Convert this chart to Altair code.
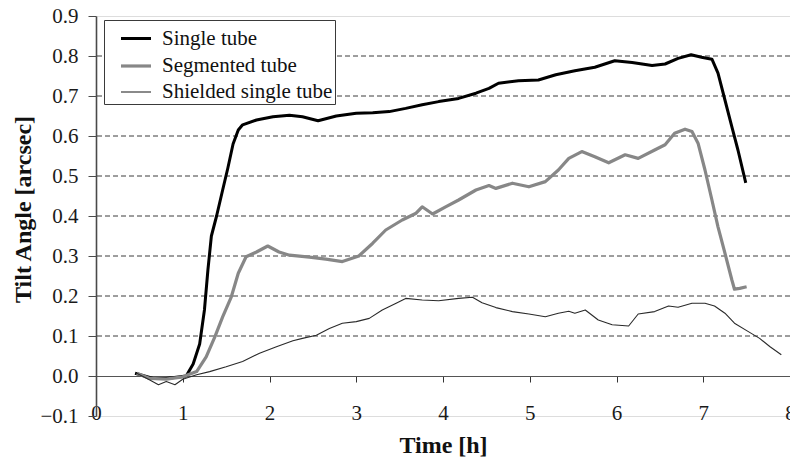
import altair as alt
import pandas as pd

# Tilt angle traces (time in hours, angle in arcsec)
single_t = [0.45, 0.66, 0.81, 1.04, 1.12, 1.195, 1.25, 1.29, 1.33, 1.39, 1.46, 1.52, 1.58,
            1.64, 1.69, 1.85, 2.04, 2.23, 2.38, 2.56, 2.77, 3.0, 3.19, 3.38, 3.57, 3.76,
            3.95, 4.18, 4.38, 4.53, 4.64, 4.87, 5.10, 5.30, 5.52, 5.75, 5.98, 6.18, 6.41,
            6.56, 6.71, 6.86, 6.98, 7.10, 7.17, 7.25, 7.33, 7.40, 7.49]
single_v = [0.007, -0.006, -0.006, 0.0, 0.03, 0.08, 0.165, 0.265, 0.35, 0.40, 0.465, 0.52, 0.58,
            0.615, 0.628, 0.64, 0.648, 0.652, 0.648, 0.638, 0.65, 0.657, 0.658, 0.661, 0.669, 0.678,
            0.686, 0.694, 0.707, 0.719, 0.732, 0.738, 0.74, 0.753, 0.763, 0.772, 0.788, 0.784, 0.776,
            0.78, 0.794, 0.803, 0.797, 0.792, 0.757, 0.69, 0.623, 0.565, 0.483]

segmented_t = [0.47, 0.62, 0.81, 1.0, 1.16, 1.27, 1.37, 1.46, 1.56, 1.64, 1.73, 1.85, 1.98,
               2.11, 2.23, 2.46, 2.65, 2.84, 3.03, 3.19, 3.34, 3.53, 3.69, 3.76, 3.88, 4.03,
               4.18, 4.38, 4.53, 4.61, 4.80, 4.99, 5.18, 5.33, 5.45, 5.60, 5.75, 5.91, 6.10,
               6.25, 6.44, 6.56, 6.67, 6.79, 6.87, 6.94, 7.02, 7.10, 7.17, 7.25, 7.33, 7.36,
               7.42, 7.50]
segmented_v = [0.007, -0.006, -0.008, -0.002, 0.011, 0.048, 0.098, 0.148, 0.198, 0.257, 0.298, 0.31, 0.325,
               0.31, 0.302, 0.297, 0.292, 0.286, 0.30, 0.332, 0.365, 0.39, 0.407, 0.423, 0.405, 0.423,
               0.44, 0.465, 0.476, 0.469, 0.482, 0.473, 0.486, 0.515, 0.544, 0.561, 0.548, 0.533, 0.553,
               0.544, 0.565, 0.578, 0.607, 0.617, 0.611, 0.582, 0.515, 0.44, 0.373, 0.307, 0.24, 0.217,
               0.219, 0.223]

shielded_t = [0.47, 0.62, 0.72, 0.81, 0.91, 1.0, 1.16, 1.31, 1.50, 1.69, 1.885, 2.08, 2.27,
              2.38, 2.54, 2.69, 2.84, 3.0, 3.15, 3.30, 3.46, 3.57, 3.76, 3.95, 4.18, 4.34,
              4.45, 4.61, 4.80, 4.99, 5.18, 5.33, 5.45, 5.52, 5.64, 5.79, 5.95, 6.14, 6.25,
              6.44, 6.60, 6.71, 6.87, 7.02, 7.13, 7.25, 7.36, 7.52, 7.65, 7.77, 7.90]
shielded_v = [0.007, -0.01, -0.022, -0.014, -0.022, -0.008, 0.003, 0.011, 0.023, 0.036, 0.057, 0.073, 0.088,
              0.094, 0.102, 0.119, 0.132, 0.136, 0.144, 0.165, 0.182, 0.194, 0.19, 0.188, 0.194, 0.197,
              0.183, 0.171, 0.161, 0.155, 0.148, 0.157, 0.162, 0.157, 0.165, 0.14, 0.128, 0.125, 0.155,
              0.161, 0.175, 0.172, 0.182, 0.182, 0.175, 0.157, 0.132, 0.111, 0.094, 0.073, 0.053]

series_names = ["Single tube", "Segmented tube", "Shielded single tube"]
series_colors = ["#000000", "#878787", "#2a2a2a"]
series_widths = [3.0, 3.2, 1.1]

y_ticks = [round(-0.1 + 0.1 * i, 1) for i in range(11)]
x_ticks = list(range(9))
grid_levels = [0.1, 0.2, 0.3, 0.4, 0.5, 0.6, 0.7, 0.8]

rows = []
for name, ts, vs in zip(series_names, [single_t, segmented_t, shielded_t],
                        [single_v, segmented_v, shielded_v]):
    for t, v in zip(ts, vs):
        rows.append({"series": name, "t": t, "v": v})
df = pd.DataFrame(rows)
grid_df = pd.DataFrame({"level": grid_levels})

FONT = "Liberation Serif"
x_scale = alt.Scale(domain=[0, 8], nice=False, zero=False)
y_scale = alt.Scale(domain=[-0.1, 0.9], nice=False, zero=False)

y_axis = alt.Axis(
    values=y_ticks, format=".1f", grid=False,
    domainColor="#4a4a4a", domainWidth=1.6, tickColor="#4a4a4a", tickSize=8,
    labelFont=FONT, labelFontSize=21, labelColor="#1a1a1a", labelPadding=10,
    labelOverlap=False,
    title="Tilt Angle [arcsec]", titleFont=FONT, titleFontSize=24,
    titleFontWeight="bold", titleColor="#111111", titleX=-73, titleY=193,
    titleAngle=-90, titleAlign="center", titleBaseline="middle",
)

x_axis = alt.Axis(
    values=x_ticks, format="d", offset=-40, grid=False,
    domainColor="#555555", domainWidth=1.2, tickColor="#333333", tickSize=6,
    labelFont=FONT, labelFontSize=21, labelColor="#1a1a1a", labelPadding=20,
    labelFlush=False, labelOverlap=False,
    title="Time [h]", titleFont=FONT, titleFontSize=24, titleFontWeight="bold",
    titleColor="#111111", titleY=76, titleBaseline="alphabetic",
)

# dashed horizontal guide lines
grid = alt.Chart(grid_df).mark_rule(
    color="#3c3c3c", strokeDash=[5, 3], strokeWidth=1
).encode(y=alt.Y("level:Q", scale=y_scale, axis=y_axis))

legend_def = alt.Legend(
    title=None, orient="none", legendX=8, legendY=4,
    fillColor="white", strokeColor="#3a3a3a", padding=2,
    symbolType="stroke", symbolSize=900, symbolOffset=13,
    labelFont=FONT, labelFontSize=21, labelColor="#111111",
    labelOffset=9, rowPadding=-7, labelLimit=400,
)

lines = alt.Chart(df).mark_line(strokeJoin="round", clip=True).encode(
    x=alt.X("t:Q", scale=x_scale, axis=x_axis),
    y=alt.Y("v:Q", scale=y_scale, axis=y_axis),
    color=alt.Color("series:N", scale=alt.Scale(domain=series_names, range=series_colors),
                    legend=legend_def),
    strokeWidth=alt.StrokeWidth("series:N",
                                scale=alt.Scale(type="ordinal", domain=series_names,
                                                range=series_widths),
                                legend=legend_def),
)

chart = alt.layer(grid, lines).properties(
    width=694, height=400,
    autosize=alt.AutoSizeParams(type="none"),
    padding={"left": 96, "top": 16, "right": 0, "bottom": 47},
).configure_view(stroke="#a8a8a8", strokeWidth=1.5).configure(background="white")

chart.save("out.html", embed_options={"renderer": "svg", "actions": False})
